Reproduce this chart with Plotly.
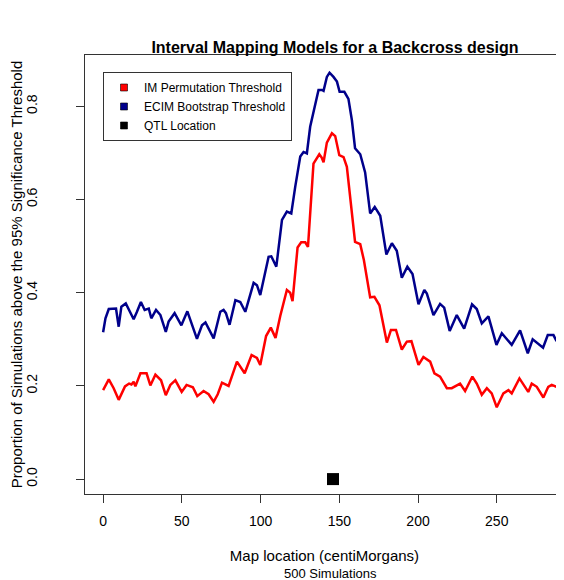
import plotly.graph_objects as go

# Map positions (cM) and proportions for ECIM bootstrap threshold (blue)
ecim_x = [0, 1.5, 3.6, 8.2, 9.9, 11.6, 14.4, 16.3, 19.4, 21.5, 24.0, 26.4, 29.0, 30.6,
          33.6, 36.4, 39.8, 41.6, 45.4, 49.7, 52.2, 53.5, 59.6, 62.8, 65.0, 70.2, 74.4,
          76.5, 78.0, 80.3, 84.0, 87.1, 90.3, 95.6, 97.7, 99.8, 105.1, 106.8, 110.0,
          113.6, 116.7, 119.5, 122.0, 125.2, 127.3, 129.4, 131.5, 133.6, 136.8, 139.0,
          140.0, 142.1, 143.8, 146.3, 148.5, 150.2, 153.2, 155.8, 158.0, 160.0, 163.3,
          166.4, 169.6, 172.5, 176.0, 179.9, 183.4, 186.5, 189.7, 193.2, 196.5, 200.3,
          204.0, 205.6, 209.8, 214.0, 216.6, 220.1, 224.6, 229.3, 234.3, 237.3, 240.5,
          244.7, 249.8, 253.2, 259.5, 264.8, 269.7, 272.8, 279.4, 282.4, 286.0, 288.0]
ecim_y = [0.315, 0.345, 0.365, 0.366, 0.327, 0.370, 0.377, 0.363, 0.343, 0.359, 0.380,
          0.363, 0.366, 0.345, 0.363, 0.352, 0.316, 0.338, 0.356, 0.330, 0.348, 0.360,
          0.301, 0.330, 0.336, 0.302, 0.359, 0.363, 0.356, 0.331, 0.384, 0.380, 0.359,
          0.421, 0.416, 0.395, 0.477, 0.478, 0.456, 0.556, 0.574, 0.570, 0.627, 0.692,
          0.702, 0.699, 0.756, 0.785, 0.835, 0.835, 0.833, 0.863, 0.872, 0.863, 0.853,
          0.831, 0.831, 0.816, 0.770, 0.710, 0.697, 0.658, 0.570, 0.584, 0.565, 0.482,
          0.506, 0.490, 0.432, 0.456, 0.440, 0.375, 0.406, 0.398, 0.352, 0.376, 0.368,
          0.318, 0.352, 0.323, 0.375, 0.365, 0.334, 0.349, 0.288, 0.313, 0.288, 0.319,
          0.270, 0.300, 0.282, 0.309, 0.309, 0.296]

# Map positions (cM) and proportions for IM permutation threshold (red)
im_x = [0, 3.6, 6.7, 9.9, 13.9, 16.5, 18.0, 19.4, 20.5, 23.7, 27.6, 30.0, 33.2, 36.8,
        39.8, 42.7, 45.9, 49.9, 53.0, 57.0, 59.8, 63.8, 67.0, 70.2, 72.8, 75.5, 79.7,
        85.0, 89.9, 94.3, 97.7, 99.8, 103.5, 106.5, 109.5, 112.5, 116.7, 118.8, 120.3,
        123.5, 125.8, 128.4, 130.1, 131.5, 133.6, 137.3, 138.8, 140.0, 142.1, 145.3,
        147.4, 150.0, 152.7, 154.8, 158.0, 160.0, 163.3, 165.6, 169.6, 172.3, 175.5,
        180.2, 182.8, 186.0, 189.7, 192.9, 195.8, 200.3, 203.4, 207.7, 210.4, 214.0,
        218.3, 221.4, 226.7, 229.9, 234.5, 237.3, 240.5, 243.7, 246.8, 250.0, 254.2,
        257.4, 259.5, 264.4, 270.0, 272.2, 275.4, 279.6, 282.7, 284.9, 288.0]
im_y = [0.191, 0.214, 0.195, 0.170, 0.199, 0.205, 0.203, 0.209, 0.199, 0.227, 0.227,
        0.201, 0.224, 0.212, 0.180, 0.202, 0.212, 0.187, 0.202, 0.197, 0.178, 0.189,
        0.182, 0.166, 0.182, 0.207, 0.200, 0.252, 0.227, 0.266, 0.260, 0.245, 0.307,
        0.325, 0.303, 0.350, 0.406, 0.400, 0.382, 0.497, 0.508, 0.508, 0.498, 0.580,
        0.677, 0.697, 0.690, 0.680, 0.722, 0.742, 0.736, 0.695, 0.691, 0.670, 0.570,
        0.509, 0.504, 0.470, 0.390, 0.391, 0.373, 0.293, 0.320, 0.320, 0.278, 0.295,
        0.296, 0.245, 0.262, 0.252, 0.227, 0.220, 0.195, 0.195, 0.205, 0.189, 0.220,
        0.205, 0.181, 0.195, 0.184, 0.154, 0.184, 0.191, 0.184, 0.216, 0.187, 0.205,
        0.198, 0.175, 0.198, 0.202, 0.198]

qtl_x = [146]
qtl_y = [0]

legend_labels = ["IM Permutation Threshold", "ECIM Bootstrap Threshold", "QTL Location"]
x_ticks = [0, 50, 100, 150, 200, 250]
y_ticks = [0.0, 0.2, 0.4, 0.6, 0.8]

RED = "#FF0000"
BLUE = "#00008B"
FONT = "Liberation Sans, Arial, sans-serif"

# the page adds an ~8px offset; layout numbers below are figure coordinates
L, T, PW, PH = 77, 47, 479, 439

fig = go.Figure()
fig.add_trace(go.Scatter(x=im_x, y=im_y, mode="lines", line=dict(color=RED, width=2.5),
                         showlegend=False, name=legend_labels[0]))
fig.add_trace(go.Scatter(x=ecim_x, y=ecim_y, mode="lines", line=dict(color=BLUE, width=2.5),
                         showlegend=False, name=legend_labels[1]))
fig.add_trace(go.Scatter(x=qtl_x, y=qtl_y, mode="markers",
                         marker=dict(symbol="square", size=12, color="black"),
                         showlegend=False, name=legend_labels[2]))
# legend entries (filled boxes)
for lab, col in zip(legend_labels, [RED, BLUE, "black"]):
    fig.add_trace(go.Scatter(x=[None], y=[None], mode="markers", name=lab,
                             marker=dict(symbol="square", size=7, color=col,
                                         line=dict(color="black", width=0.6))))

axis_common = dict(showgrid=False, zeroline=False, showline=True, linecolor="#333",
                   linewidth=1, ticks="outside", ticklen=8, tickcolor="#333",
                   automargin=False,
                   tickfont=dict(family=FONT, size=14, color="black"))

fig.update_layout(
    width=564, height=580,
    margin=dict(l=L, r=564 - L - PW, t=T, b=580 - T - PH, autoexpand=False),
    plot_bgcolor="white", paper_bgcolor="white",
    title=dict(text="<b>Interval Mapping Models for a Backcross design</b>",
               x=327 / 564, xanchor="center", y=1 - 39 / 580, yanchor="middle",
               yref="container", xref="container",
               font=dict(family=FONT, size=16, color="black")),
    xaxis=dict(range=[-11.5, 292.7], tickvals=x_ticks, mirror=True,
               ticklabelstandoff=6,
               title=dict(text="Map location (centiMorgans)", standoff=22,
                          font=dict(family=FONT, size=15, color="black")),
               **axis_common),
    yaxis=dict(range=[-0.032, 0.91], tickvals=y_ticks, tickformat=".1f",
               tickangle=-90, ticklabelstandoff=33,
               title=dict(text="Proportion of Simulations above the 95% Significance Threshold",
                          standoff=0, font=dict(family=FONT, size=15, color="black")),
               **axis_common),
    legend=dict(x=(95 - L) / PW, xanchor="left", y=1 - (64 - T) / PH, yanchor="top",
                bordercolor="#333", borderwidth=1, bgcolor="white",
                font=dict(family=FONT, size=12, color="black"),
                itemwidth=30, tracegroupgap=0),
    annotations=[dict(text="500 Simulations", xref="paper", yref="paper",
                      x=(322 - L) / PW, y=0, yshift=-79,
                      showarrow=False, xanchor="center", yanchor="middle",
                      font=dict(family=FONT, size=13, color="black"))],
)

fig.write_html("out.html")
